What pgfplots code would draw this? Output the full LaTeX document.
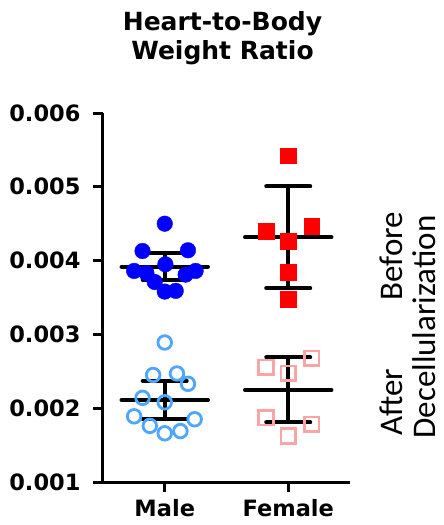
\documentclass[border=0pt]{standalone}
\usepackage{fontspec}
\setmainfont{DejaVu Sans}
\newfontfamily\sidefont{Carlito}
\usepackage{pgfplots}
\pgfplotsset{compat=1.18}

\definecolor{maleBefore}{RGB}{0,0,255}
\definecolor{maleAfter}{RGB}{77,166,255}
\definecolor{femaleBefore}{RGB}{255,0,0}
\definecolor{femaleAfter}{RGB}{250,165,165}

\begin{document}
\begin{tikzpicture}
\useasboundingbox (-103pt,-43pt) rectangle (341pt,482pt);
\begin{axis}[
  at={(0pt,0pt)}, anchor=south west,
  scale only axis, width=247pt, height=369pt,
  xmin=0.5, xmax=2.5, ymin=0.001, ymax=0.006,
  axis x line*=bottom, axis y line*=left,
  axis line style={line width=3pt, black},
  xtick={1,2}, xticklabels={Male,Female},
  xticklabel style={yshift=-4pt},
  ytick={0.001,0.002,0.003,0.004,0.005,0.006},
  scaled y ticks=false,
  yticklabel style={xshift=-9pt, /pgf/number format/.cd, fixed, fixed zerofill, precision=3},
  /pgf/number format/assume math mode=true,
  tick align=outside, major tick length=10pt,
  tick style={line width=3pt, black},
  ticklabel style={font=\fontsize{22.5}{26}\selectfont\bfseries},
  clip=false,
]
% standard deviation bars
\addplot[draw=none, mark=none, forget plot,
  error bars/.cd, y dir=both, y explicit,
  error bar style={draw=black, line width=4pt},
  error mark=|, error mark options={draw=black, line width=4pt, mark size=22pt, line cap=round}]
  coordinates {
    (1,0.003917) +- (0,0.00018)
    (1,0.002111) +- (0,0.00026)
    (2,0.004316) +- (0,0.00069)
    (2,0.002247) +- (0,0.00044)
  };
% group means
\addplot[black, line width=4pt, line cap=round, forget plot] coordinates {(0.65,0.003917) (1.35,0.003917)};
\addplot[black, line width=4pt, line cap=round, forget plot] coordinates {(0.65,0.002111) (1.35,0.002111)};
\addplot[black, line width=4pt, line cap=round, forget plot] coordinates {(1.65,0.004316) (2.35,0.004316)};
\addplot[black, line width=4pt, line cap=round, forget plot] coordinates {(1.65,0.002247) (2.35,0.002247)};
% male, before decellularization
\addplot[only marks, mark=*, mark size=7.8pt, color=maleBefore] coordinates {
  (1.000,0.00450) (0.820,0.00413) (1.188,0.00414) (1.005,0.00395)
  (0.752,0.00386) (0.852,0.00383) (0.919,0.00371) (1.000,0.00358)
  (1.089,0.00359) (1.169,0.00381) (1.250,0.00386)
};
% male, after decellularization
\addplot[only marks, mark=o, mark size=6.8pt, color=maleAfter, mark options={line width=2.8pt}] coordinates {
  (1.000,0.00289) (0.906,0.00245) (1.099,0.00247) (1.188,0.00233)
  (0.820,0.00214) (1.000,0.00208) (0.752,0.00189) (0.879,0.00176)
  (1.000,0.00166) (1.127,0.00169) (1.242,0.00185)
};
% female, before decellularization
\addplot[only marks, mark=square*, mark size=7.8pt, color=femaleBefore] coordinates {
  (2.000,0.00542) (1.820,0.00440) (2.190,0.00447)
  (2.000,0.00426) (2.000,0.00384) (2.000,0.00348)
};
% female, after decellularization
\addplot[only marks, mark=square, mark size=7.3pt, color=femaleAfter, mark options={line width=2.6pt}] coordinates {
  (1.820,0.002554) (2.190,0.002676) (2.000,0.002473)
  (1.820,0.001871) (2.190,0.001782) (2.000,0.001623)
};
\end{axis}
% title
\node[anchor=base, inner sep=0pt, font=\bfseries\fontsize{25}{30}\selectfont]
  at (119.5pt,451pt) {Heart-to-Body};
\node[anchor=base, inner sep=0pt, font=\bfseries\fontsize{25}{30}\selectfont]
  at (119.5pt,422pt) {Weight Ratio};
% side labels
\node[anchor=base, inner sep=0pt, rotate=90, font=\sidefont\fontsize{33}{36}\selectfont]
  at (299pt,226pt) {Before};
\node[anchor=base, inner sep=0pt, rotate=90, font=\sidefont\fontsize{33}{36}\selectfont]
  at (299pt,79.5pt) {After};
\node[anchor=base, inner sep=0pt, rotate=90, font=\sidefont\fontsize{33}{36}\selectfont]
  at (332pt,155pt) {Decellularization};
\end{tikzpicture}
\end{document}
